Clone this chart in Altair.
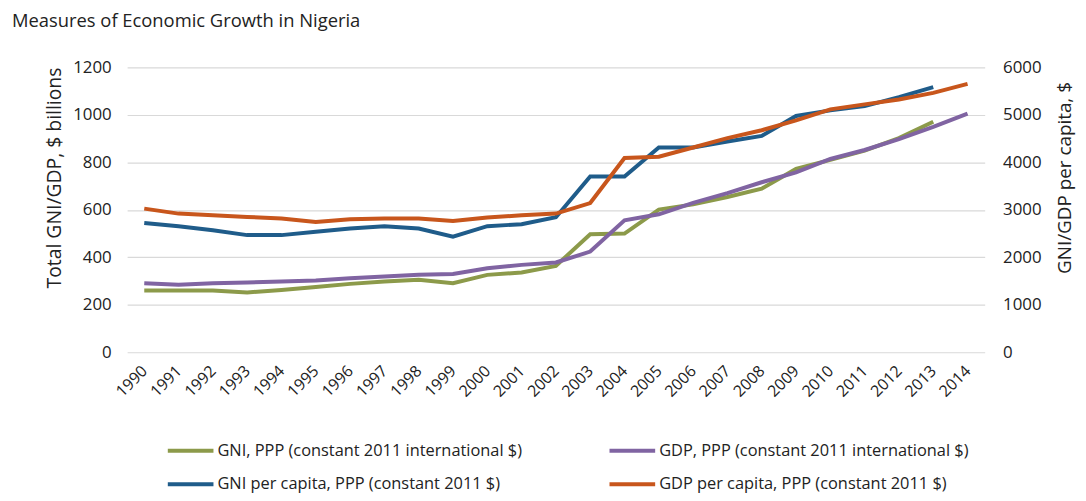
import altair as alt
import pandas as pd

years = [str(y) for y in range(1990, 2015)]
gni = [260, 260, 260, 252, 262, 275, 288, 298, 305, 291, 326, 336, 364,
       497, 500, 601, 623, 654, 689, 772, 810, 849, 902, 971, None]
gdp = [291, 284, 291, 294, 298, 302, 312, 319, 326, 330, 354, 368, 378,
       424, 556, 581, 629, 670, 716, 758, 814, 852, 898, 949, 1005]
gni_pc = [2724, 2655, 2571, 2467, 2467, 2536, 2607, 2655, 2607, 2432, 2655, 2697, 2845,
          3700, 3700, 4313, 4313, 4439, 4557, 4976, 5094, 5185, 5373, 5582, None]
gdp_pc = [3025, 2920, 2885, 2850, 2815, 2745, 2800, 2815, 2815, 2766, 2837, 2885, 2920,
          3142, 4091, 4118, 4313, 4509, 4676, 4885, 5115, 5220, 5324, 5463, 5651]

series_names = [
    "GNI, PPP (constant 2011 international $)",
    "GDP, PPP (constant 2011 international $)",
    "GNI per capita, PPP (constant 2011 $)",
    "GDP per capita, PPP (constant 2011 $)",
]
colors = ["#8C9A4A", "#8064A2", "#1F5C8A", "#C8561C"]

rows = []
for name, vals, kind in zip(series_names, [gni, gdp, gni_pc, gdp_pc],
                            ["total", "total", "pc", "pc"]):
    for y, v in zip(years, vals):
        if v is not None:
            rows.append({"year": y, "value": v, "series": name, "kind": kind})
df = pd.DataFrame(rows)

FONT = "Open Sans"
TXT = "#222222"

x = alt.X("year:O", scale=alt.Scale(type="point", padding=0.5, domain=years),
          axis=alt.Axis(title=None, labelAngle=-45, labelAlign="right",
                        labelBaseline="middle", domain=False, ticks=False,
                        labelFont=FONT, labelFontSize=16, labelColor=TXT,
                        labelPadding=16, grid=False))
color = alt.Color("series:N",
                  scale=alt.Scale(domain=series_names, range=colors),
                  legend=alt.Legend(title=None, orient="none", legendX=39, legendY=361,
                                    columns=2, direction="horizontal",
                                    symbolType="stroke", symbolSize=2116,
                                    symbolStrokeWidth=4, labelLimit=500,
                                    labelFont=FONT, labelFontSize=16.5,
                                    labelColor=TXT, columnPadding=79,
                                    rowPadding=-19, labelOffset=2))

left = alt.Chart(df).transform_filter(alt.datum.kind == "total").mark_line(
    strokeWidth=4).encode(
    x=x,
    y=alt.Y("value:Q", scale=alt.Scale(domain=[0, 1200], nice=False),
            axis=alt.Axis(title="Total GNI/GDP, $ billions", values=list(range(0, 1201, 200)),
                          format="d", domain=False, ticks=False, gridColor="#D9D9D9",
                          gridWidth=1.2,
                          labelFont=FONT, labelFontSize=17, labelColor=TXT,
                          labelPadding=16, titleFont=FONT, titleFontSize=19.5,
                          titleFontWeight="normal", titleColor=TXT,
                          titleX=-73, titleY=111, titleAngle=-90, titleAlign="center",
                          titleBaseline="middle")),
    color=color,
)

right = alt.Chart(df).transform_filter(alt.datum.kind == "pc").mark_line(
    strokeWidth=4).encode(
    x=x,
    y=alt.Y("value:Q", scale=alt.Scale(domain=[0, 6000], nice=False),
            axis=alt.Axis(title="GNI/GDP per capita, $", orient="right",
                          values=list(range(0, 6001, 1000)), format="d", grid=False,
                          domain=False, ticks=False,
                          labelFont=FONT, labelFontSize=17, labelColor=TXT,
                          labelPadding=18, titleFont=FONT, titleFontSize=19,
                          titleFontWeight="normal", titleColor=TXT,
                          titleX=80, titleY=111, titleAngle=-90, titleAlign="center",
                          titleBaseline="middle")),
    color=color,
)

chart = alt.layer(left, right).resolve_scale(y="independent").properties(
    width=864, height=287,
    autosize=alt.AutoSizeParams(type="none"),
    padding={"left": 120, "top": 58, "right": 94, "bottom": 140},
    title=alt.TitleParams("Measures of Economic Growth in Nigeria", anchor="start",
                          frame="group", dx=-116, offset=28,
                          font=FONT, fontSize=18.5, fontWeight="normal", color=TXT),
).configure_view(stroke=None)

chart.save("out.html", embed_options={"renderer": "svg", "actions": False})
